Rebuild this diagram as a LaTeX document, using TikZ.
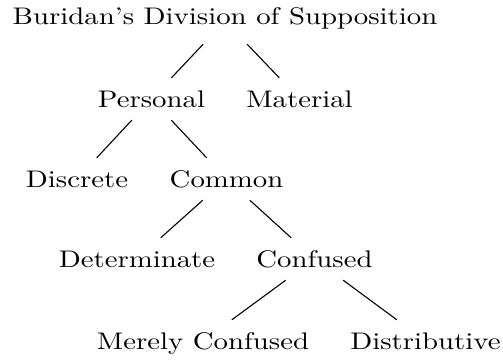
\documentclass[tikz,border=0pt]{standalone}
\usepackage{graphicx}
\newcommand{\tx}[1]{\scalebox{2.88}[2.40]{#1}}
\begin{document}
\begin{tikzpicture}[x=1pt,y=-1pt,
  tn/.style={inner sep=0pt, text height=16pt, text depth=0pt, minimum height=42pt},
  rn/.style={inner sep=0pt, text height=16pt, text depth=8pt, minimum height=46pt},
  br/.style={line width=1.1pt}]
\useasboundingbox (0,0) rectangle (503,361);
\node[rn] (root) at (225,21) {\tx{Buridan's Division of Supposition}};
\node[tn] (pers) at (151.5,99) {\tx{Personal}};
\node[tn] (mat) at (299.5,99) {\tx{Material}};
\node[tn] (disc) at (77,179) {\tx{Discrete}};
\node[tn] (comm) at (226.5,179) {\tx{Common}};
\node[tn] (det) at (137,259) {\tx{Determinate}};
\node[tn] (conf) at (314.5,259) {\tx{Confused}};
\node[tn] (mere) at (203,341) {\tx{Merely Confused}};
\node[tn] (dist) at (425.5,341) {\tx{Distributive}};
\draw[br] (root) -- (pers);
\draw[br] (root) -- (mat);
\draw[br] (pers) -- (disc);
\draw[br] (pers) -- (comm);
\draw[br] (comm) -- (det);
\draw[br] (comm) -- (conf);
\draw[br] (conf) -- (mere);
\draw[br] (conf) -- (dist);
\end{tikzpicture}
\end{document}
